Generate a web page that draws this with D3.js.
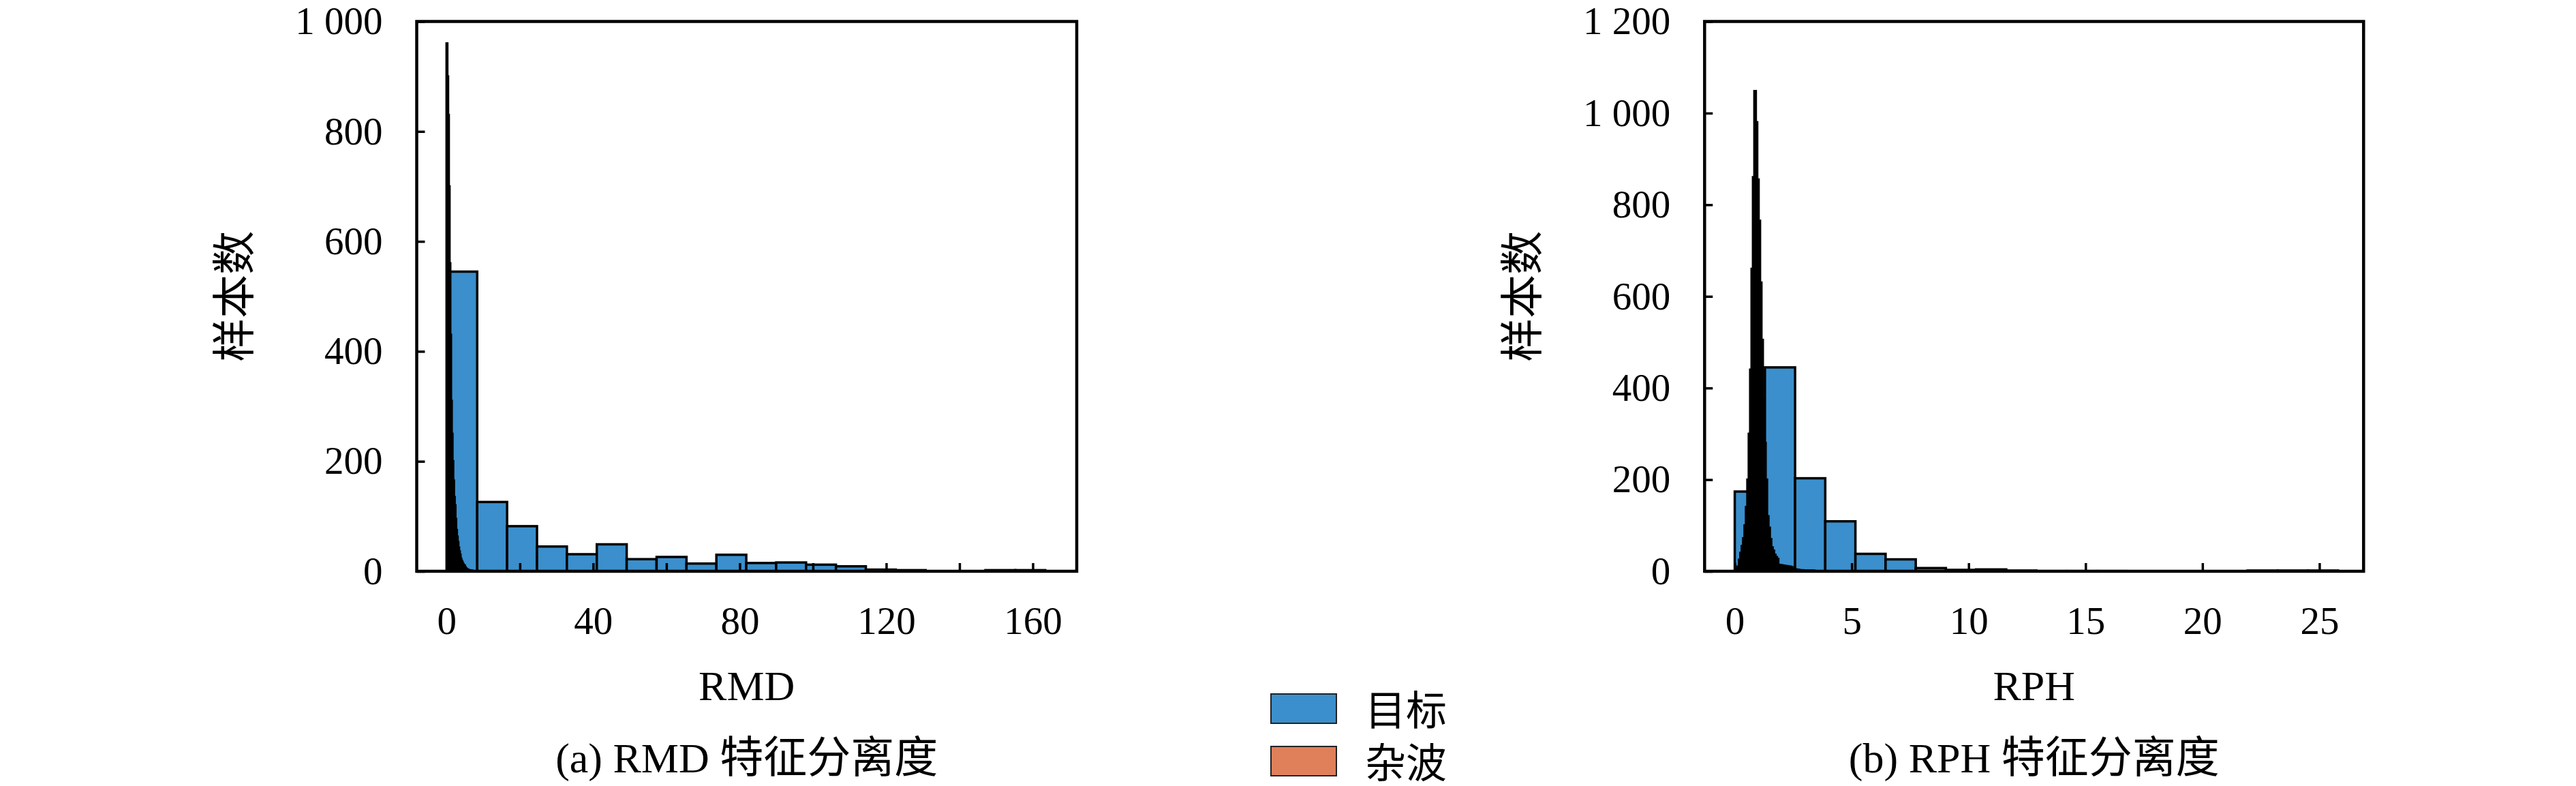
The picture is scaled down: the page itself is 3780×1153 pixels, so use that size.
<!DOCTYPE html>
<html>
<head>
<meta charset="utf-8">
<script src="https://cdn.jsdelivr.net/npm/d3@7"></script>
<style>
  body { margin: 0; background: #fff; }
  svg { display: block; }
</style>
</head>
<body>
<div class="canvas"></div>
<script>
// ---- data ----

// (a) RMD
const rmdTargetStart = 0.2;
const rmdTargetWidth = 8.16;
const rmdTargetCounts = [545, 126, 82, 45, 31, 49, 22, 26, 14, 30, 15, 16, 12, 9, 3, 2, 0, 0, 2, 2];
const rmdClutterStart = 0;
const rmdClutterWidth = 0.2;
const rmdClutterCounts = [960, 900, 830, 700, 560, 430, 310, 250, 200, 165, 135, 120, 95, 75, 63, 53, 43, 36,
  30, 23, 19, 16, 13, 11, 10, 7, 5, 4, 3, 2, 2, 1, 1, 1, 1];
const rmdTicksX = [0, 20, 40, 60, 80, 100, 120, 140, 160];
const rmdLabelsX = [0, 40, 80, 120, 160];
const rmdTicksY = [0, 200, 400, 600, 800, 1000];

// (b) RPH
const rphTargetStart = 0;
const rphTargetWidth = 1.29;
const rphTargetCounts = [174, 445, 203, 109, 38, 26, 7, 3, 4, 1.5, 0.5, 0.5, 0.5, 0, 0, 0, 0, 1.5, 1.5, 1.5];
const rphClutterStart = 0.06;
const rphClutterWidth = 0.06;
const rphClutterCounts = [5, 10, 25, 40, 55, 72, 100, 140, 200, 300, 440, 660, 860, 1048, 980, 855, 765, 630,
  505, 375, 280, 200, 120, 95, 70, 52, 45, 36, 31, 27, 14, 13, 13, 12, 12, 11, 11, 10, 10, 9,
  6, 5, 4, 3, 3, 2, 2, 2, 1, 1, 1, 1, 1, 1, 1, 1];
const rphTicksX = [0, 5, 10, 15, 20, 25];
const rphLabelsX = [0, 5, 10, 15, 20, 25];
const rphTicksY = [0, 200, 400, 600, 800, 1000, 1200];

const legendNames = ["目标", "杂波"];

// ---- styles ----
const blue = "#3a8fcc";
const orange = "#e0805a";
const latin = "Liberation Serif, serif";
const cjk = "Noto Sans CJK SC, sans-serif";

const W = 3780, H = 1153;

const svg = d3.select(".canvas")
  .append("svg")
  .attr("width", W)
  .attr("height", H);

svg.append("rect").attr("width", W).attr("height", H).attr("fill", "#fff");

const fmt = (d) => (d >= 1000 ? d3.format(",")(d).replace(",", " ") : String(d));

const toBins = (start, width, counts) =>
  counts.map((c, i) => ({ x0: start + i * width, x1: start + (i + 1) * width, c }));

const panels = [
  {
    left: 611.5, right: 1580,
    xDomain: [-8.15, 172], yMax: 1000,
    target: toBins(rmdTargetStart, rmdTargetWidth, rmdTargetCounts),
    clutter: toBins(rmdClutterStart, rmdClutterWidth, rmdClutterCounts),
    ticksX: rmdTicksX, labelsX: rmdLabelsX, ticksY: rmdTicksY,
    xLabel: "RMD", tag: "(a) RMD ",
  },
  {
    left: 2501.3, right: 3468.3,
    xDomain: [-1.29, 26.89], yMax: 1200,
    target: toBins(rphTargetStart, rphTargetWidth, rphTargetCounts),
    clutter: toBins(rphClutterStart, rphClutterWidth, rphClutterCounts),
    ticksX: rphTicksX, labelsX: rphLabelsX, ticksY: rphTicksY,
    xLabel: "RPH", tag: "(b) RPH ",
  },
];

const plotTop = 31.5, plotBottom = 838;

panels.forEach((p) => {
  const x = d3.scaleLinear().domain(p.xDomain).range([p.left, p.right]);
  const y = d3.scaleLinear().domain([0, p.yMax]).range([plotBottom, plotTop]);
  const g = svg.append("g");

  // target histogram
  g.append("g")
    .selectAll("rect")
    .data(p.target)
    .enter()
    .append("rect")
    .attr("x", (d) => x(d.x0))
    .attr("y", (d) => y(d.c))
    .attr("width", (d) => x(d.x1) - x(d.x0))
    .attr("height", (d) => y(0) - y(d.c))
    .attr("fill", blue)
    .attr("stroke", "#000")
    .attr("stroke-width", 3.5);

  // clutter histogram (narrow bins, edges dominate)
  g.append("g")
    .selectAll("rect")
    .data(p.clutter)
    .enter()
    .append("rect")
    .attr("x", (d) => x(d.x0))
    .attr("y", (d) => y(d.c))
    .attr("width", (d) => x(d.x1) - x(d.x0))
    .attr("height", (d) => y(0) - y(d.c))
    .attr("fill", orange)
    .attr("stroke", "#000")
    .attr("stroke-width", 3.5);

  // axes, ticks inside
  const xAxis = d3.axisBottom(x)
    .tickValues(p.ticksX)
    .tickSize(-12)
    .tickPadding(52)
    .tickFormat((d) => (p.labelsX.includes(d) ? fmt(d) : ""));
  const yAxis = d3.axisLeft(y)
    .tickValues(p.ticksY)
    .tickSize(-12)
    .tickPadding(50)
    .tickFormat(fmt);

  const xg = g.append("g").attr("transform", `translate(0,${plotBottom})`).call(xAxis);
  const yg = g.append("g").attr("transform", `translate(${p.left},0)`).call(yAxis);

  [xg, yg].forEach((a) => {
    a.select(".domain").remove();
    a.selectAll(".tick line").attr("stroke", "#000").attr("stroke-width", 3.5);
    a.selectAll(".tick text")
      .attr("fill", "#000")
      .style("font-family", latin)
      .style("font-size", "57px");
  });

  // frame
  g.append("rect")
    .attr("x", p.left)
    .attr("y", plotTop)
    .attr("width", p.right - p.left)
    .attr("height", plotBottom - plotTop)
    .attr("fill", "none")
    .attr("stroke", "#000")
    .attr("stroke-width", 4.5);

  const cx = (p.left + p.right) / 2;

  // x label
  g.append("text")
    .attr("x", cx)
    .attr("y", 1027)
    .attr("text-anchor", "middle")
    .style("font-family", latin)
    .style("font-size", "62px")
    .text(p.xLabel);

  // y label
  g.append("text")
    .attr("transform", `translate(${p.left - 273.5},${(plotTop + plotBottom) / 2}) rotate(-90)`)
    .attr("text-anchor", "middle")
    .attr("dominant-baseline", "central")
    .style("font-family", cjk)
    .style("font-size", "64px")
    .text("样本数");

  // caption
  const cap = g.append("text")
    .attr("x", cx)
    .attr("y", 1133)
    .attr("text-anchor", "middle");
  cap.append("tspan").style("font-family", latin).style("font-size", "62px").text(p.tag);
  cap.append("tspan").style("font-family", cjk).style("font-size", "64px").text("特征分离度");
});

// legend
const legend = svg.append("g").attr("transform", "translate(1865,1018)");
const legendColors = [blue, orange];
legend.selectAll("g")
  .data(legendNames)
  .enter()
  .append("g")
  .attr("transform", (d, i) => `translate(0,${i * 77})`)
  .each(function (d, i) {
    const item = d3.select(this);
    item.append("rect")
      .attr("width", 96)
      .attr("height", 43)
      .attr("fill", legendColors[i])
      .attr("stroke", "#222")
      .attr("stroke-width", 2);
    item.append("text")
      .attr("x", 138)
      .attr("y", 19)
      .attr("dominant-baseline", "central")
      .style("font-family", cjk)
      .style("font-size", "60px")
      .text(d);
  });
</script>
</body>
</html>
